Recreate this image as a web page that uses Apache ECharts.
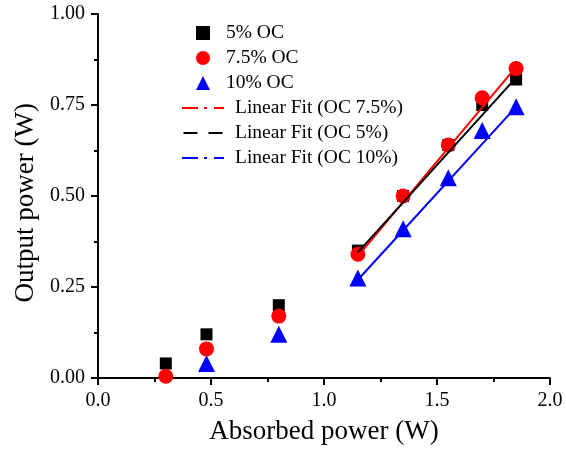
<!DOCTYPE html>
<html><head><meta charset="utf-8">
<script src="https://cdn.jsdelivr.net/npm/echarts@6/dist/echarts.min.js"></script>
<style>html,body{margin:0;padding:0;background:#fff}#c{width:566px;height:450px}</style>
</head><body><div id="c"></div>
<script>
const absorbed = [0.30, 0.48, 0.80, 1.15, 1.35, 1.55, 1.70, 1.85];
const oc5 = [0.04, 0.12, 0.20, 0.35, 0.50, 0.64, 0.75, 0.82];
const oc75 = [0.005, 0.08, 0.17, 0.34, 0.50, 0.64, 0.77, 0.85];
const absorbed10 = [0.48, 0.80, 1.15, 1.35, 1.55, 1.70, 1.85];
const oc10 = [0.04, 0.12, 0.275, 0.41, 0.55, 0.68, 0.745];
const fitX = [1.15, 1.85];
const fit75 = [0.335, 0.855];
const fit5 = [0.345, 0.825];
const fit10 = [0.27, 0.745];
const xTicks = ['0.0','0.5','1.0','1.5','2.0'];
const yTicks = ['0.00','0.25','0.50','0.75','1.00'];

const pair = (xs, ys) => xs.map((x, i) => [x, ys[i]]);
const font = 'Liberation Serif';
const dashDot = 'path://M0,0h16v2h-16z M22,0h3v2h-3z M32,0h10v2h-10z';
const dashed = 'path://M0,0h14v2h-14z M25,0h14v2h-14z';
const chart = echarts.init(document.getElementById('c'));
chart.setOption({
  animation: false,
  backgroundColor: '#fff',
  grid: {left: 98, right: 16, top: 14, bottom: 71},
  xAxis: {
    type: 'value', min: 0, max: 2, interval: 0.5,
    name: 'Absorbed power (W)', nameLocation: 'middle', nameGap: 40,
    nameTextStyle: {fontFamily: font, fontSize: 27, color: '#000'},
    axisLine: {lineStyle: {color: '#000', width: 2}},
    axisTick: {length: 7, lineStyle: {color: '#000', width: 2}},
    minorTick: {show: true, splitNumber: 2, length: 4, lineStyle: {color: '#000', width: 2}},
    axisLabel: {fontFamily: font, fontSize: 20, color: '#000', margin: 13,
      formatter: v => xTicks[Math.round(v / 0.5)]},
    splitLine: {show: false}
  },
  yAxis: {
    type: 'value', min: 0, max: 1, interval: 0.25,
    name: 'Output power (W)\u00a0\u00a0', nameLocation: 'middle', nameGap: 59,
    nameTextStyle: {fontFamily: font, fontSize: 27, color: '#000'},
    axisLine: {show: true, lineStyle: {color: '#000', width: 2}},
    axisTick: {show: true, length: 7, lineStyle: {color: '#000', width: 2}},
    minorTick: {show: true, splitNumber: 2, length: 4, lineStyle: {color: '#000', width: 2}},
    axisLabel: {fontFamily: font, fontSize: 20, color: '#000', margin: 13,
      formatter: v => yTicks[Math.round(v / 0.25)]},
    splitLine: {show: false}
  },
  legend: [{
    orient: 'vertical', left: 191, top: 18, itemGap: 5,
    itemWidth: 14, itemHeight: 14,
    textStyle: {fontFamily: font, fontSize: 19.5, color: '#000', padding: [0, 0, 0, 11]},
    data: [{name: '5% OC'}, {name: '7.5% OC'}, {name: '10% OC'}]
  }, {
    orient: 'vertical', left: 177, top: 93, itemGap: 5,
    itemWidth: 42, itemHeight: 2,
    textStyle: {fontFamily: font, fontSize: 19.5, color: '#000', padding: [0, 0, 0, 6]},
    data: [
      {name: 'Linear Fit (OC 7.5%)', icon: dashDot},
      {name: 'Linear Fit (OC 5%)', icon: dashed},
      {name: 'Linear Fit (OC 10%)', icon: dashDot}
    ]
  }],
  series: [
    {name: '5% OC', type: 'scatter', data: pair(absorbed, oc5), symbol: 'rect', symbolSize: 12,
     itemStyle: {color: '#000', opacity: 1}, z: 2},
    {name: '7.5% OC', type: 'scatter', data: pair(absorbed, oc75), symbol: 'circle', symbolSize: 15,
     itemStyle: {color: '#ff0000', opacity: 1}, z: 3},
    {name: '10% OC', type: 'scatter', data: pair(absorbed10, oc10), symbol: 'triangle', symbolSize: 17,
     itemStyle: {color: '#0000ff', opacity: 1}, z: 2},
    {name: 'Linear Fit (OC 7.5%)', type: 'line', data: pair(fitX, fit75), symbol: 'none',
     lineStyle: {color: '#ff0000', width: 2}, itemStyle: {color: '#ff0000'}, z: 5},
    {name: 'Linear Fit (OC 5%)', type: 'line', data: pair(fitX, fit5), symbol: 'none',
     lineStyle: {color: '#000', width: 2}, itemStyle: {color: '#000'}, z: 6},
    {name: 'Linear Fit (OC 10%)', type: 'line', data: pair(fitX, fit10), symbol: 'none',
     lineStyle: {color: '#0000ff', width: 2}, itemStyle: {color: '#0000ff'}, z: 5}
  ]
});
</script></body></html>
